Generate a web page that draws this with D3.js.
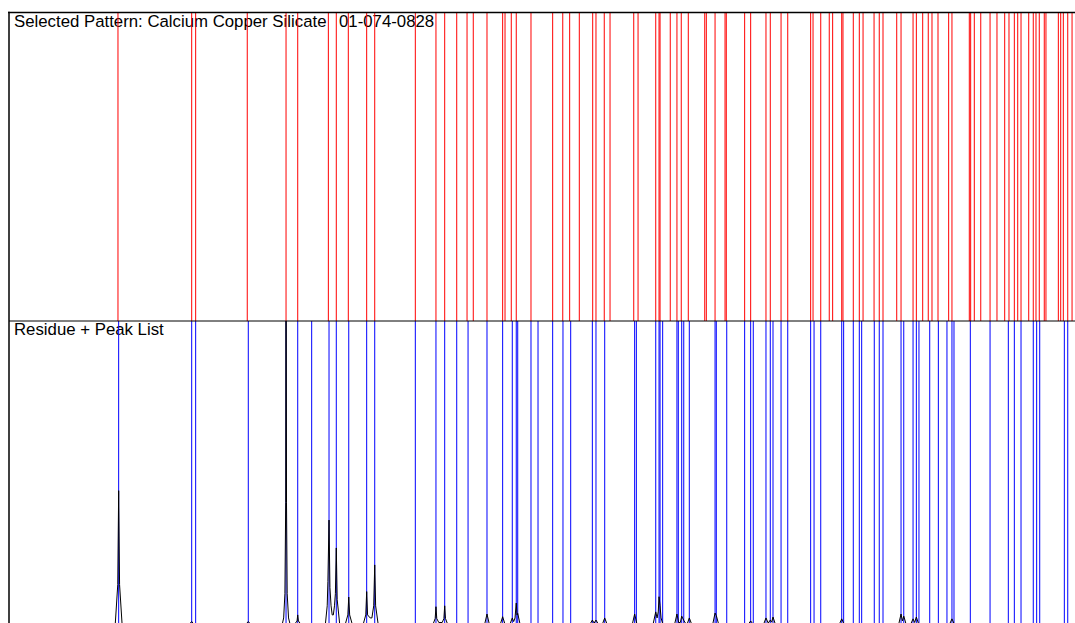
<!DOCTYPE html>
<html>
<head>
<meta charset="utf-8">
<script src="https://cdn.jsdelivr.net/npm/d3@7"></script>
<style>
  html, body { margin: 0; padding: 0; background: #fff; }
  svg { display: block; }
  text { font-family: "Liberation Sans", Arial, sans-serif; }
</style>
</head>
<body>
<script>
// ---- Data (2-theta, degrees) ----
const twoThetaRange = [2, 96];

const patternTitle = "Selected Pattern: Calcium Copper Silicate";
const patternCode = "01-074-0828";
const residueTitle = "Residue + Peak List";

// Reference pattern line positions (red)
const patternLines = [
  11.61, 18.11, 18.46, 23.01, 26.43, 27.46, 30.16, 30.86, 31.92, 33.54,
  34.25, 37.83, 39.65, 40.42, 41.48, 42.39, 42.94, 44.15, 45.53, 45.74,
  46.29, 46.73, 48.03, 49.94, 50.83, 51.44, 52.29, 53.47, 53.76, 54.49,
  55.00, 57.09, 57.47, 59.03, 59.32, 59.41, 60.31, 60.90, 61.28, 61.90,
  63.35, 63.49, 64.26, 65.14, 65.25, 66.87, 67.40, 68.75, 69.13, 70.08,
  70.67, 72.69, 72.90, 73.58, 74.33, 74.63, 75.43, 75.54, 76.45, 76.98,
  77.31, 78.28, 78.74, 79.07, 80.28, 80.66, 81.72, 82.01, 82.57, 83.06,
  83.39, 83.92, 84.86, 85.15, 86.68, 86.80, 87.12, 87.69, 88.51, 89.12,
  89.80, 90.18, 90.65, 90.95, 91.24, 91.92, 92.32, 92.56, 92.85, 93.29,
  93.44, 94.53, 94.74, 94.97, 95.36, 95.74
];

// Peak list positions (blue)
const peakList = [
  11.67, 18.11, 18.46, 23.10, 26.43, 27.46, 28.69, 30.22, 30.86, 31.96,
  33.54, 34.25, 37.83, 39.65, 40.42, 41.48, 42.48, 44.15, 45.53, 46.38,
  46.73, 46.86, 48.03, 48.65, 49.94, 50.85, 51.53, 53.44, 53.76, 54.53,
  57.17, 57.32, 59.03, 59.32, 59.41, 59.64, 60.90, 61.02, 61.32, 61.50,
  61.99, 64.26, 64.37, 65.29, 66.87, 67.40, 67.63, 68.75, 69.13, 69.37,
  70.08, 70.67, 72.69, 72.99, 73.58, 75.43, 75.60, 76.45, 76.98, 77.19,
  78.30, 78.74, 79.07, 80.66, 80.90, 81.72, 82.01, 82.24, 83.19, 83.95,
  84.71, 85.15, 85.33, 86.77, 88.51, 90.12, 90.65, 91.24, 92.32, 92.62,
  92.89, 95.06, 95.36
];

// Residue scan: [2-theta, intensity (% of panel height)]
const residue = [
  [2, 0],
  [11.37, 0], [11.59, 13], [11.67, 44], [11.75, 13], [11.97, 0],
  [17.90, 0], [18.11, 0.8], [18.30, 0],
  [22.90, 0], [23.10, 0.8], [23.30, 0],
  [26.10, 0], [26.22, 2], [26.33, 10], [26.40, 40], [26.43, 130], [26.47, 40], [26.53, 10], [26.65, 2], [26.78, 0],
  [27.20, 0], [27.40, 1], [27.46, 3.0], [27.52, 1], [27.72, 0],
  [29.90, 0], [30.06, 6], [30.12, 14], [30.22, 34.3], [30.30, 12], [30.40, 6], [30.50, 3],
  [30.60, 3], [30.70, 6], [30.78, 10], [30.86, 25.1], [30.94, 8], [31.16, 0],
  [31.66, 0], [31.88, 3], [31.96, 8.9], [32.04, 3], [32.26, 0],
  [33.24, 0], [33.46, 3], [33.54, 10.7], [33.62, 3], [33.85, 2],
  [34.00, 2], [34.16, 6], [34.25, 19.5], [34.33, 6], [34.55, 0],
  [39.40, 0], [39.58, 1.8], [39.65, 5.7], [39.72, 1.8], [39.90, 0.5],
  [40.20, 0.5], [40.35, 1.8], [40.42, 6.0], [40.49, 1.8], [40.67, 0],
  [43.95, 0], [44.15, 3.3], [44.35, 0],
  [45.33, 0], [45.53, 2.4], [45.73, 0],
  [46.18, 0], [46.38, 2.0], [46.50, 0.8], [46.62, 2], [46.73, 6.9], [46.80, 3], [46.86, 3.5], [47.06, 0],
  [53.24, 0], [53.44, 1.3], [53.60, 0.3], [53.76, 1.3], [53.96, 0],
  [54.33, 0], [54.53, 2.0], [54.73, 0],
  [56.97, 0], [57.17, 3.3], [57.37, 0],
  [58.80, 0], [59.03, 4.0], [59.15, 2], [59.25, 4], [59.32, 9.0], [59.41, 6], [59.50, 2], [59.65, 0],
  [60.70, 0], [60.90, 3.3], [61.05, 0.5], [61.20, 0.5], [61.32, 2.6], [61.50, 1.2], [61.70, 0],
  [61.80, 0], [61.99, 2.0], [62.19, 0],
  [64.06, 0], [64.26, 3.6], [64.37, 2.8], [64.57, 0],
  [67.20, 0], [67.40, 1.0], [67.60, 0],
  [68.55, 0], [68.75, 2.0], [68.95, 0.3], [69.13, 1.3], [69.25, 0.6], [69.37, 2.3], [69.57, 0],
  [75.23, 0], [75.43, 1.7], [75.63, 0],
  [80.46, 0], [80.66, 3.3], [80.78, 1], [80.90, 2.6], [81.10, 0],
  [81.52, 0], [81.72, 1.7], [81.86, 0.5], [82.01, 2.3], [82.21, 0],
  [84.95, 0], [85.15, 1.7], [85.35, 0],
  [96, 0]
];
const intensityRange = [0, 100];

// ---- Layout ----
const W = 1075, H = 623;
const padLeft = 9, frameTop = 12.5, dividerY = 321, baseY = 624;

const svg = d3.select("body").append("svg")
  .attr("width", W).attr("height", H);

const x = d3.scaleLinear().domain(twoThetaRange).range([padLeft, W]);
const y = d3.scaleLinear().domain(intensityRange).range([baseY, dividerY]);

const defs = svg.append("defs");
defs.append("clipPath").attr("id", "clipTop")
  .append("rect").attr("x", padLeft).attr("y", frameTop).attr("width", W - padLeft).attr("height", dividerY - frameTop);
defs.append("clipPath").attr("id", "clipBottom")
  .append("rect").attr("x", padLeft).attr("y", dividerY).attr("width", W - padLeft).attr("height", H - dividerY);

// Titles
svg.append("text")
  .attr("x", 14).attr("y", 27)
  .attr("font-size", 16.8).attr("fill", "#000")
  .text(patternTitle);
svg.append("text")
  .attr("x", 339).attr("y", 27)
  .attr("font-size", 16.8).attr("fill", "#000")
  .text(patternCode);
svg.append("text")
  .attr("x", 14).attr("y", 335)
  .attr("font-size", 16.8).attr("fill", "#000")
  .text(residueTitle);

// Top panel: reference pattern lines
svg.append("g").attr("clip-path", "url(#clipTop)")
  .selectAll("line").data(patternLines).join("line")
  .attr("x1", d => x(d)).attr("x2", d => x(d))
  .attr("y1", frameTop).attr("y2", dividerY)
  .attr("stroke", "#ff0000").attr("stroke-width", 1);

// Bottom panel: peak list lines
svg.append("g").attr("clip-path", "url(#clipBottom)")
  .selectAll("line").data(peakList).join("line")
  .attr("x1", d => x(d)).attr("x2", d => x(d))
  .attr("y1", dividerY).attr("y2", H)
  .attr("stroke", "#0000ff").attr("stroke-width", 1);

// Residue scan
svg.append("g").attr("clip-path", "url(#clipBottom)")
  .append("path")
  .datum(residue)
  .attr("d", d3.line().x(d => x(d[0])).y(d => y(d[1])))
  .attr("fill", "none")
  .attr("stroke", "#000")
  .attr("stroke-width", 1);

// Frame
svg.append("line").attr("x1", padLeft - 1).attr("x2", W).attr("y1", frameTop).attr("y2", frameTop)
  .attr("stroke", "#000").attr("stroke-width", 1.5);
svg.append("line").attr("x1", padLeft).attr("x2", padLeft).attr("y1", frameTop - 0.75).attr("y2", H)
  .attr("stroke", "#000").attr("stroke-width", 1.5);
svg.append("line").attr("x1", padLeft).attr("x2", W).attr("y1", dividerY).attr("y2", dividerY)
  .attr("stroke", "#000").attr("stroke-width", 1);
</script>
</body>
</html>
